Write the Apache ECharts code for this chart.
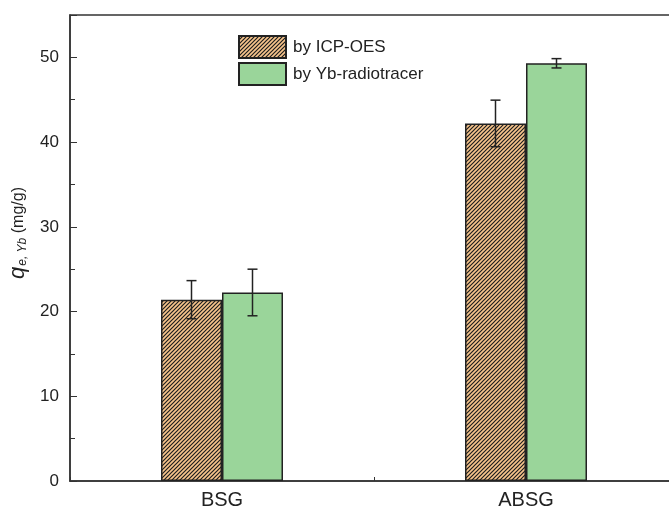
<!DOCTYPE html>
<html>
<head>
<meta charset="utf-8">
<script src="https://cdn.jsdelivr.net/npm/echarts@6/dist/echarts.min.js"></script>
<style>
  html, body { margin: 0; padding: 0; background: #fff; }
  #chart { width: 669px; height: 510px; }
</style>
</head>
<body>
<div id="chart"></div>
<script>
// data
const categories = ['BSG', 'ABSG'];
const icpValues = [21.4, 42.2];
const icpErrors = [2.25, 2.75];
const tracerValues = [22.25, 49.3];
const tracerErrors = [2.75, 0.55];
const yTicks = [0, 10, 20, 30, 40, 50];

const BAR_W = 61;

// diagonal hatch fill for the ICP-OES bars
function hatch() {
  const c = document.createElement('canvas');
  c.width = c.height = 4;
  const ctx = c.getContext('2d');
  ctx.fillStyle = '#F8C58C';
  ctx.fillRect(0, 0, 4, 4);
  ctx.strokeStyle = '#1e1e1e';
  ctx.lineWidth = 1.2;
  ctx.beginPath();
  ctx.moveTo(-1, 5); ctx.lineTo(5, -1);
  ctx.moveTo(-1, 1); ctx.lineTo(1, -1);
  ctx.moveTo(3, 5); ctx.lineTo(5, 3);
  ctx.stroke();
  return c;
}

// error bar drawer, offset = bar centre shift from the category centre
function errorBars(offset) {
  return function (params, api) {
    const i = api.value(0), v = api.value(1), e = api.value(2);
    const hi = api.coord([i, v + e]);
    const lo = api.coord([i, v - e]);
    const x = hi[0] + offset;
    const cap = 5;
    const st = { stroke: '#222', lineWidth: 1.5 };
    return {
      type: 'group',
      children: [
        { type: 'line', shape: { x1: x, y1: hi[1], x2: x, y2: lo[1] }, style: st },
        { type: 'line', shape: { x1: x - cap, y1: hi[1], x2: x + cap, y2: hi[1] }, style: st },
        { type: 'line', shape: { x1: x - cap, y1: lo[1], x2: x + cap, y2: lo[1] }, style: st }
      ]
    };
  };
}

const chart = echarts.init(document.getElementById('chart'), null, { renderer: 'canvas' });

const font = 'Arial, "Liberation Sans", sans-serif';

chart.setOption({
  animation: false,
  backgroundColor: '#fff',
  grid: {
    left: 70, width: 608, top: 15, bottom: 29,
    outerBoundsMode: 'none',
    containLabel: false,
    show: true, borderColor: '#333', borderWidth: 1.5
  },
  legend: {
    orient: 'vertical',
    left: 238, top: 35, padding: 0,
    itemWidth: 47, itemHeight: 22, itemGap: 3,
    icon: 'rect',
    textStyle: { fontFamily: font, fontSize: 17, color: '#222', padding: [0, 0, 0, 2] },
    data: ['by ICP-OES', 'by Yb-radiotracer']
  },
  xAxis: {
    type: 'category',
    data: categories,
    axisLine: { lineStyle: { color: '#333', width: 1.5 } },
    axisTick: { show: true, inside: true, length: 4, interval: 0, lineStyle: { color: '#333' } },
    axisLabel: { fontFamily: font, fontSize: 20, color: '#222', margin: 9 }
  },
  yAxis: {
    type: 'value',
    min: 0, max: 55, interval: 10,
    name: '{q|q}{sub|e, Yb}{n| (mg/g)}',
    nameLocation: 'middle',
    nameGap: 33,
    nameTextStyle: {
      padding: [0, 0, 0, 30],
      rich: {
        q: { fontFamily: font, fontSize: 22, fontStyle: 'italic', color: '#222' },
        sub: { fontFamily: font, fontSize: 12, fontStyle: 'italic', color: '#222', padding: [9, 0, 0, 1] },
        n: { fontFamily: font, fontSize: 16, color: '#222' }
      }
    },
    splitLine: { show: false },
    axisLine: { show: true, lineStyle: { color: '#333', width: 1.5 } },
    axisTick: { show: true, inside: true, length: 7, lineStyle: { color: '#333' } },
    minorTick: { show: true, splitNumber: 2, length: 5, lineStyle: { color: '#333' } },
    axisLabel: {
      fontFamily: font, fontSize: 17, color: '#222', margin: 11,
      formatter: v => (yTicks.indexOf(v) >= 0 ? String(v) : '')
    }
  },
  series: [
    {
      name: 'by ICP-OES',
      type: 'bar',
      data: icpValues,
      barWidth: BAR_W,
      barGap: '0%',
      itemStyle: { color: { image: hatch(), repeat: 'repeat' }, borderColor: '#222', borderWidth: 1.5 }
    },
    {
      name: 'by Yb-radiotracer',
      type: 'bar',
      data: tracerValues,
      barWidth: BAR_W,
      barGap: '0%',
      itemStyle: { color: '#9AD59A', borderColor: '#222', borderWidth: 1.5 }
    },
    {
      type: 'custom',
      renderItem: errorBars(-BAR_W / 2),
      data: icpValues.map((v, i) => [i, v, icpErrors[i]]),
      z: 5
    },
    {
      type: 'custom',
      renderItem: errorBars(BAR_W / 2),
      data: tracerValues.map((v, i) => [i, v, tracerErrors[i]]),
      z: 5
    }
  ]
});
</script>
</body>
</html>
